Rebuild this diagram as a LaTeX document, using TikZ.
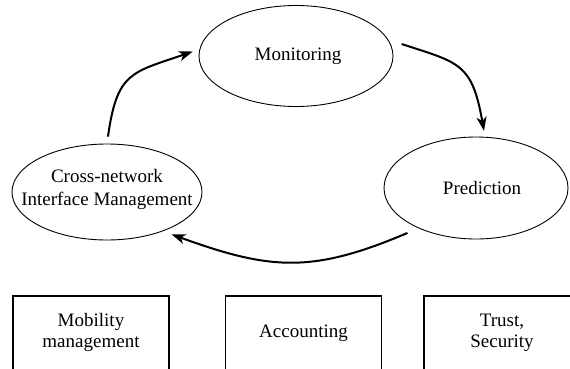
\documentclass[tikz,border=0pt]{standalone}
\usepackage{fontspec}
\setmainfont{Liberation Serif}
\usetikzlibrary{shapes.geometric,arrows.meta}

\begin{document}
\begin{tikzpicture}[x=1pt,y=1pt]
\tikzstyle{stage} = [draw, shape=ellipse, line width=0.9pt, inner sep=0pt]
\tikzstyle{stagetext} = [align=center, font=\fontsize{19}{23}\selectfont]
\tikzstyle{task} = [draw, shape=rectangle, line width=1.8pt, minimum width=156pt, minimum height=86pt, anchor=north]
\tikzstyle{tasktext} = [align=center, font=\fontsize{19}{21}\selectfont, yshift=6pt]
\tikzstyle{flow} = [line width=2pt, -{Stealth[length=14pt,width=10pt,inset=4pt]}]
\useasboundingbox (0,0) rectangle (570,368);
\clip (0,0) rectangle (570,368);

\node [stage, minimum width=194pt, minimum height=101pt, label={[stagetext, xshift=2pt]center:Monitoring}] (mon) at (296, 312) {};
\node [stage, minimum width=190pt, minimum height=96pt, label={[stagetext, yshift=3pt]center:Cross-network\\Interface Management}] (cross) at (107, 176) {};
\node [stage, minimum width=184pt, minimum height=102pt, label={[stagetext, xshift=6pt]center:Prediction}] (pred) at (476, 180) {};

\node [task, label={[tasktext]center:Mobility\\management}] (mob) at (91, 73) {};
\node [task, label={[tasktext]center:Accounting}] (acc) at (303.5, 73) {};
\node [task, label={[tasktext]center:Trust,\\Security}] (trust) at (502, 73) {};

\draw [flow, shorten <=7pt, shorten >=7pt] (cross.north) to [out=82, in=199, looseness=1.4] (mon.176);
\draw [flow, shorten <=14pt, shorten >=6pt] (mon.10) to [out=-18, in=100, looseness=1.4] (pred.80);
\draw [flow, shorten <=12pt, shorten >=9pt] (pred.215) to [out=203, in=-20, looseness=1.15] (cross.-35);
\end{tikzpicture}
\end{document}
